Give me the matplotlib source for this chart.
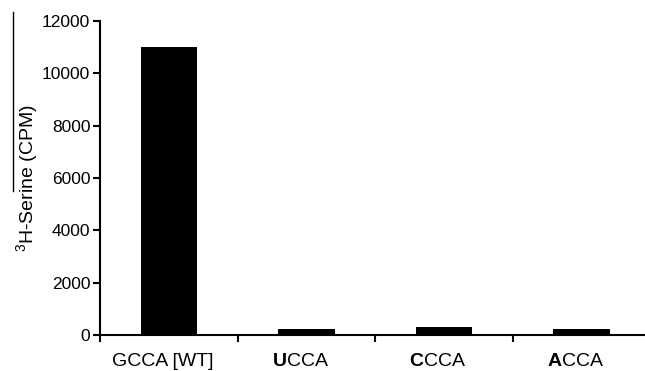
import matplotlib.pyplot as plt
from matplotlib.lines import Line2D
from matplotlib.transforms import ScaledTranslation

plt.rcParams['font.family'] = ['Liberation Sans', 'DejaVu Sans']
plt.rcParams['mathtext.fontset'] = 'custom'
plt.rcParams['mathtext.rm'] = 'Liberation Sans'
plt.rcParams['mathtext.bf'] = 'Liberation Sans:bold'

# data
labels = ["GCCA [WT]", r"$\mathbf{U}$CCA", r"$\mathbf{C}$CCA", r"$\mathbf{A}$CCA"]
cpm = [11000, 220, 290, 230]
y_ticks = [0, 2000, 4000, 6000, 8000, 10000, 12000]

fig = plt.figure(figsize=(6.45, 3.71), dpi=100)
ax = fig.add_axes([0.155, 0.097, 0.845, 0.846])

x = range(len(cpm))
ax.bar(x, cpm, width=0.41, color="black")

ax.set_ylim(0, 12000)
ax.set_xlim(-0.5, 3.46)
ax.set_yticks(y_ticks)
ax.set_yticklabels([str(v) for v in y_ticks], fontsize=12.5)

# category boundaries get the tick marks, labels sit in the middle
ax.set_xticks([i - 0.5 for i in x])
ax.set_xticklabels([])
ax.set_xticks(list(x), minor=True)
ax.set_xticklabels(labels, minor=True, fontsize=14)
ax.tick_params(axis="x", which="minor", length=0, pad=13)
ax.tick_params(axis="x", which="major", length=5, width=1.5, direction="out")
ax.tick_params(axis="y", length=5, width=1.5, direction="out", pad=2)

# labels sit a little left of the bar centres in the original
shift = ScaledTranslation(-6 / 100, 0, fig.dpi_scale_trans)
for lbl in ax.get_xticklabels(minor=True):
    lbl.set_transform(lbl.get_transform() + shift)

for s in ["top", "right"]:
    ax.spines[s].set_visible(False)
for s in ["left", "bottom"]:
    ax.spines[s].set_linewidth(1.5)

ax.set_ylabel(r"$^{3}$H-Serine (CPM)", fontsize=14, labelpad=1)

# stray line next to the axis label in the original
fig.add_artist(Line2D([13 / 645, 13 / 645], [1 - 12 / 371, 1 - 191 / 371],
                      color="black", linewidth=1.0, transform=fig.transFigure))

fig.savefig("out.png", dpi=100)
